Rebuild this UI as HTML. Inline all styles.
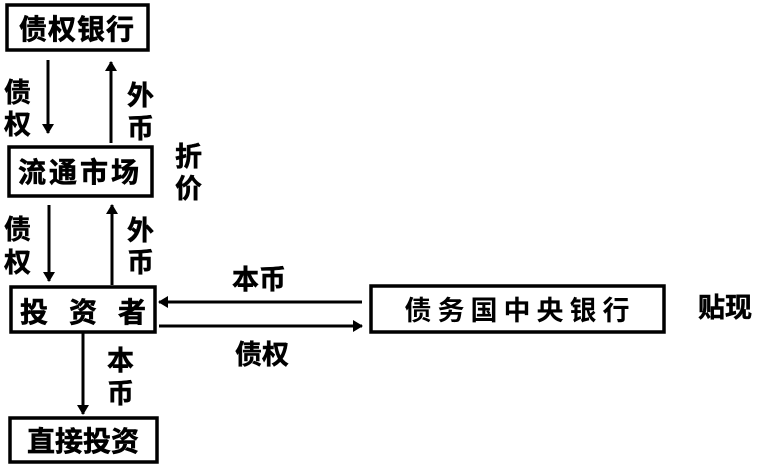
<!DOCTYPE html>
<html><head><meta charset="utf-8"><style>
html,body{margin:0;padding:0;background:#fff;}
svg{display:block;}
text{font-family:"Liberation Sans","Noto Sans CJK SC",sans-serif;font-weight:bold;fill:#000;}
</style></head><body>
<svg width="761" height="466" viewBox="0 0 761 466" xmlns="http://www.w3.org/2000/svg">
<defs>
<marker id="a" markerWidth="10" markerHeight="14" refX="9" refY="7" orient="auto" markerUnits="userSpaceOnUse">
<path d="M0,1 L10,7 L0,13 Z" fill="#000"/></marker>
</defs>
<g fill="none" stroke="#000" stroke-width="3.5">
<rect x="7" y="5" width="141" height="45"/>
<rect x="9" y="147" width="143" height="49"/>
<rect x="11" y="287" width="144" height="45"/>
<rect x="10" y="418" width="147" height="44"/>
<rect x="371" y="286" width="293" height="46"/>
</g>
<g stroke="#000" stroke-width="3">
<line x1="48" y1="60" x2="48" y2="133" marker-end="url(#a)"/>
<line x1="111" y1="143" x2="111" y2="62" marker-end="url(#a)"/>
<line x1="49" y1="205" x2="49" y2="281" marker-end="url(#a)"/>
<line x1="112" y1="285" x2="112" y2="205" marker-end="url(#a)"/>
<line x1="83" y1="333" x2="83" y2="414" marker-end="url(#a)"/>
<line x1="362" y1="302" x2="159" y2="302" marker-end="url(#a)"/>
<line x1="159" y1="326" x2="362" y2="326" marker-end="url(#a)"/>
</g>
<g font-size="28" stroke="#000" stroke-width="0.6">
<text x="77" y="39" text-anchor="middle" letter-spacing="1">债权银行</text>
<text x="80" y="182" text-anchor="middle" letter-spacing="3">流通市场</text>
<text x="20" y="322">投</text><text x="69" y="322">资</text><text x="118" y="322">者</text>
<text x="83" y="451" text-anchor="middle">直接投资</text>
</g>
<text x="520" y="320" font-size="27" text-anchor="middle" letter-spacing="6">债务国中央银行</text>
<g font-size="27" stroke="#000" stroke-width="0.5">
<text x="4" y="102">债</text><text x="4" y="134">权</text>
<text x="127" y="105">外</text><text x="127" y="138">币</text>
<text x="175" y="166">折</text><text x="175" y="198">价</text>
<text x="4" y="239">债</text><text x="4" y="272">权</text>
<text x="127" y="240">外</text><text x="127" y="272">币</text>
<text x="107" y="370">本</text><text x="107" y="403">币</text>
<text x="232" y="289">本币</text>
<text x="235" y="364">债权</text>
<text x="698" y="317">贴现</text>
</g>
</svg>
</body></html>
